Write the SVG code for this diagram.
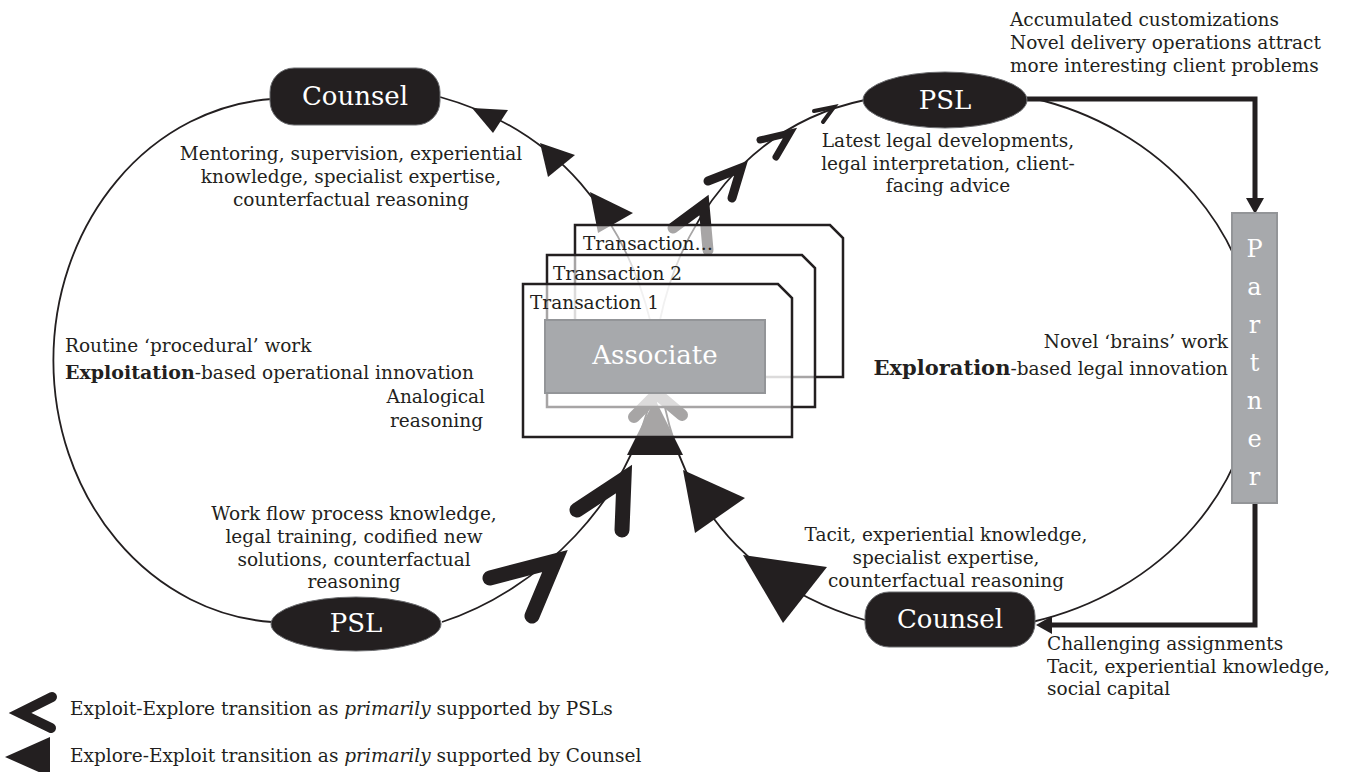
<svg xmlns="http://www.w3.org/2000/svg" width="1361" height="772" viewBox="0 0 1361 772">
<style>
text{font-family:"DejaVu Serif","Liberation Serif",serif;font-size:18.5px;fill:#231f20}
.c{text-anchor:middle}
.r{text-anchor:end}
.b{font-weight:bold}
.n{fill:#fff;font-size:26px;text-anchor:middle}
.p{fill:#fff;font-size:24px;text-anchor:middle}
.thin{fill:none;stroke:#231f20;stroke-width:1.8}
.thick{fill:none;stroke:#231f20;stroke-width:5}
.tri{fill:#231f20}
.chev{fill:none;stroke:#231f20;stroke-linecap:round;stroke-linejoin:miter;stroke-miterlimit:10}
.box{fill:#fff;fill-opacity:0.6;stroke:#231f20;stroke-width:2.5}
.dark{fill:#231f20;stroke:#6d6e71;stroke-width:1}
.grey{fill:#a7a9ac;stroke:#939598;stroke-width:2}
</style>
<rect width="1361" height="772" fill="#fff"/>
<g id="connectors">
  <path class="thin" d="M272,99 A233 262 0 0 0 272,622"/>
  <path class="thin" d="M1032,98 A297 270 0 0 1 1032,622"/>
  <path class="thin" d="M650,320 C625,220 560,130 440,97"/>
  <path class="thin" d="M660,320 C680,225 745,125 865,100"/>
  <path class="thin" d="M442,622 C540,590 630,500 652,392"/>
  <path class="thin" d="M865,620 C770,592 685,525 662,392"/>
  <path class="thick" d="M1027,99 H1255 V199"/>
  <polygon class="tri" points="1246,198 1264,198 1255,214"/>
  <path class="thick" d="M1255,503 V625 H1051"/>
  <polygon class="tri" points="1052,616 1052,634 1036,625"/>
  <polygon class="tri" points="472,108 508,110 493,133"/>
  <polygon class="tri" points="540,143 575,155 548,177"/>
  <polygon class="tri" points="590,192 633,213 598,233"/>
  <polygon class="tri" points="743,555 827,567 783,623"/>
  <polygon class="tri" points="683,470 745,498 695,533"/>
  <polygon class="tri" points="627,455 683,455 655,399"/>
  <polyline class="chev" stroke-width="4" points="814,111 834,107 823,122"/>
  <polyline class="chev" stroke-width="7" points="760,140 790,133 776,157"/>
  <polyline class="chev" stroke-width="9" points="708,181 741,168 732,198"/>
  <polyline class="chev" stroke-width="11" points="673,228 704,205 708,250"/>
  <polyline class="chev" stroke-width="15" points="490,578 555,561 532,616"/>
  <polyline class="chev" stroke-width="15" points="577,510 624,479 622,530"/>
  <polyline class="chev" stroke-width="12" points="634,417 657,394 682,415"/>
</g>
<g id="transaction-3">
  <path class="box" d="M575,225 H830 L843,238 V377 H575 Z"/>
  <text x="583" y="250">Transaction…</text>
</g>
<g id="transaction-2">
  <path class="box" d="M547,255 H802 L815,268 V407 H547 Z"/>
  <text x="553" y="280">Transaction 2</text>
</g>
<g id="transaction-1">
  <path class="box" d="M523,284 H778 L792,298 V437 H523 Z"/>
  <text x="530" y="309">Transaction 1</text>
</g>
<g id="associate">
  <rect class="grey" x="545" y="320" width="220" height="73"/>
  <text class="n" x="655" y="364">Associate</text>
</g>
<g id="counsel-top">
  <rect class="dark" x="270" y="68" width="170" height="57" rx="24"/>
  <text class="n" x="355" y="105">Counsel</text>
</g>
<g id="psl-top">
  <ellipse class="dark" cx="945" cy="100" rx="82" ry="28"/>
  <text class="n" x="945" y="109">PSL</text>
</g>
<g id="psl-bottom">
  <ellipse class="dark" cx="356" cy="624" rx="85" ry="27"/>
  <text class="n" x="356" y="632">PSL</text>
</g>
<g id="counsel-bottom">
  <rect class="dark" x="865" y="592" width="170" height="55" rx="24"/>
  <text class="n" x="950" y="628">Counsel</text>
</g>
<g id="partner">
  <rect class="grey" x="1232" y="213" width="45" height="290"/>
  <text class="p" x="1254.5" y="257">P</text>
  <text class="p" x="1254.5" y="295">a</text>
  <text class="p" x="1254.5" y="333">r</text>
  <text class="p" x="1254.5" y="371">t</text>
  <text class="p" x="1254.5" y="409">n</text>
  <text class="p" x="1254.5" y="447">e</text>
  <text class="p" x="1254.5" y="485">r</text>
</g>
<g id="labels">
  <text class="c" x="351" y="160">Mentoring, supervision, experiential</text>
  <text class="c" x="351" y="183">knowledge, specialist expertise,</text>
  <text class="c" x="351" y="206">counterfactual reasoning</text>
  <text class="c" x="948" y="147">Latest legal developments,</text>
  <text class="c" x="948" y="170">legal interpretation, client-</text>
  <text class="c" x="948" y="192">facing advice</text>
  <text x="1010" y="26">Accumulated customizations</text>
  <text x="1010" y="49">Novel delivery operations attract</text>
  <text x="1010" y="72">more interesting client problems</text>
  <text x="65" y="352">Routine ‘procedural’ work</text>
  <text x="65" y="379"><tspan class="b" font-size="19px">Exploitation</tspan>-based operational innovation</text>
  <text class="r" x="485" y="403">Analogical</text>
  <text class="r" x="483" y="427">reasoning</text>
  <text class="r" x="1228" y="348">Novel ‘brains’ work</text>
  <text class="r" x="1228" y="375"><tspan class="b" font-size="21px">Exploration</tspan>-based legal innovation</text>
  <text class="c" x="354" y="520">Work flow process knowledge,</text>
  <text class="c" x="354" y="543">legal training, codified new</text>
  <text class="c" x="354" y="566">solutions, counterfactual</text>
  <text class="c" x="354" y="588">reasoning</text>
  <text class="c" x="946" y="541">Tacit, experiential knowledge,</text>
  <text class="c" x="946" y="564">specialist expertise,</text>
  <text class="c" x="946" y="587">counterfactual reasoning</text>
  <text x="1047" y="650">Challenging assignments</text>
  <text x="1047" y="673">Tacit, experiential knowledge,</text>
  <text x="1047" y="695">social capital</text>
</g>
<g id="legend">
  <polyline class="chev" stroke-width="10" points="52,697 20,713 51,728"/>
  <text x="70" y="715">Exploit-Explore transition as <tspan font-style="italic">primarily</tspan> supported by PSLs</text>
  <polygon class="tri" points="5,757 50,737 50,777"/>
  <text x="70" y="762">Explore-Exploit transition as <tspan font-style="italic">primarily</tspan> supported by Counsel</text>
</g>
</svg>
